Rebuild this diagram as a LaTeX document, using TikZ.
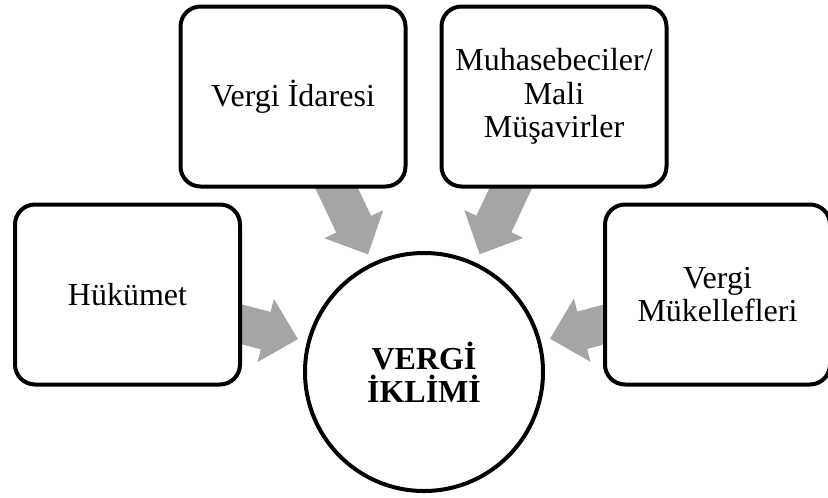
\documentclass[tikz,border=0pt]{standalone}
\usepackage{fontspec}
\setmainfont{Liberation Serif}
\usetikzlibrary{calc,backgrounds}
\definecolor{arrowgray}{RGB}{165,165,165}

\begin{document}
\begin{tikzpicture}[x=0.75pt,y=-0.75pt,
    actor/.style={draw,line width=3pt,rounded corners=15pt,fill=white,
      minimum width=168.75pt,minimum height=135pt,align=center,
      font=\fontsize{24}{25}\selectfont},
    climate/.style={draw,circle,line width=3pt,fill=white,minimum size=178.5pt,
      align=center,font=\fontsize{24}{25}\selectfont\bfseries}]
      \useasboundingbox (0,0) rectangle (828,497);
      \node[actor] (hukumet) at (127.5,294.5) {Hükümet};
      \node[actor] (idare) at (293,96.5) {Vergi İdaresi};
      \node[actor] (musavir) at (554,96.5) {Muhasebeciler/\\Mali\\Müşavirler};
      \node[actor] (mukellef) at (717.5,294.5) {Vergi\\Mükellefleri};
      \node[climate] (iklim) at (424,372) {VERGİ\\İKLİMİ};
      % block arrows, tail hidden under the boxes
      \begin{pgfonlayer}{background}
        \foreach \src in {hukumet,idare,musavir,mukellef}
          \fill[arrowgray] let \p1=($(\src.center)-(iklim.center)$), \n1={atan2(\y1,\x1)},
              \p2=($(iklim.center)+(\n1:97.75pt)$), \p3=($(\p2)+(\n1:25pt)$) in
            (\p2) -- ($(\p3)+(\n1+90:24.5pt)$) -- ($(\p3)+(\n1+90:14.5pt)$)
            -- ($(\p3)+(\n1+90:14.5pt)+(\n1:80pt)$) -- ($(\p3)+(\n1-90:14.5pt)+(\n1:80pt)$)
            -- ($(\p3)+(\n1-90:14.5pt)$) -- ($(\p3)+(\n1-90:24.5pt)$) -- cycle;
      \end{pgfonlayer}
\end{tikzpicture}
\end{document}
